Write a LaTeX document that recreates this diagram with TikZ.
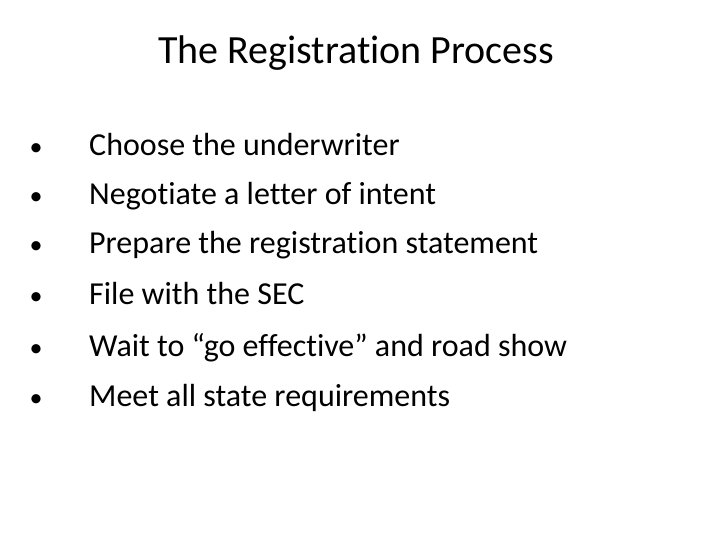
\documentclass[tikz,border=0pt]{standalone}
\usepackage{fontspec}
\setmainfont[Ligatures=NoCommon]{Carlito}
\begin{document}
\begin{tikzpicture}[x=1pt,y=-1pt,
  title/.style={font=\fontsize{40}{46}\selectfont, anchor=base, inner sep=0pt},
  item/.style={font=\fontsize{32}{38}\selectfont, anchor=base west, inner sep=0pt},
  dot/.style={font=\fontsize{26}{32}\selectfont, anchor=base, inner sep=0pt}]
\fill[white] (0,0) rectangle (720,540);
\useasboundingbox (0,0) rectangle (720,540);
\node[title] (t) at (356,64) {The Registration Process};
\foreach \y/\txt [count=\i] in {146/Choose the underwriter, 195/Negotiate a letter of intent, 244/Prepare the registration statement, 294/File with the SEC, 346/Wait to “go effective” and road show, 396/Meet all state requirements}{
  \node[dot] (b\i) at (36,\y+10) {•};
  \node[item] (i\i) at (89,\y+10) {\txt};
}
\end{tikzpicture}
\end{document}
